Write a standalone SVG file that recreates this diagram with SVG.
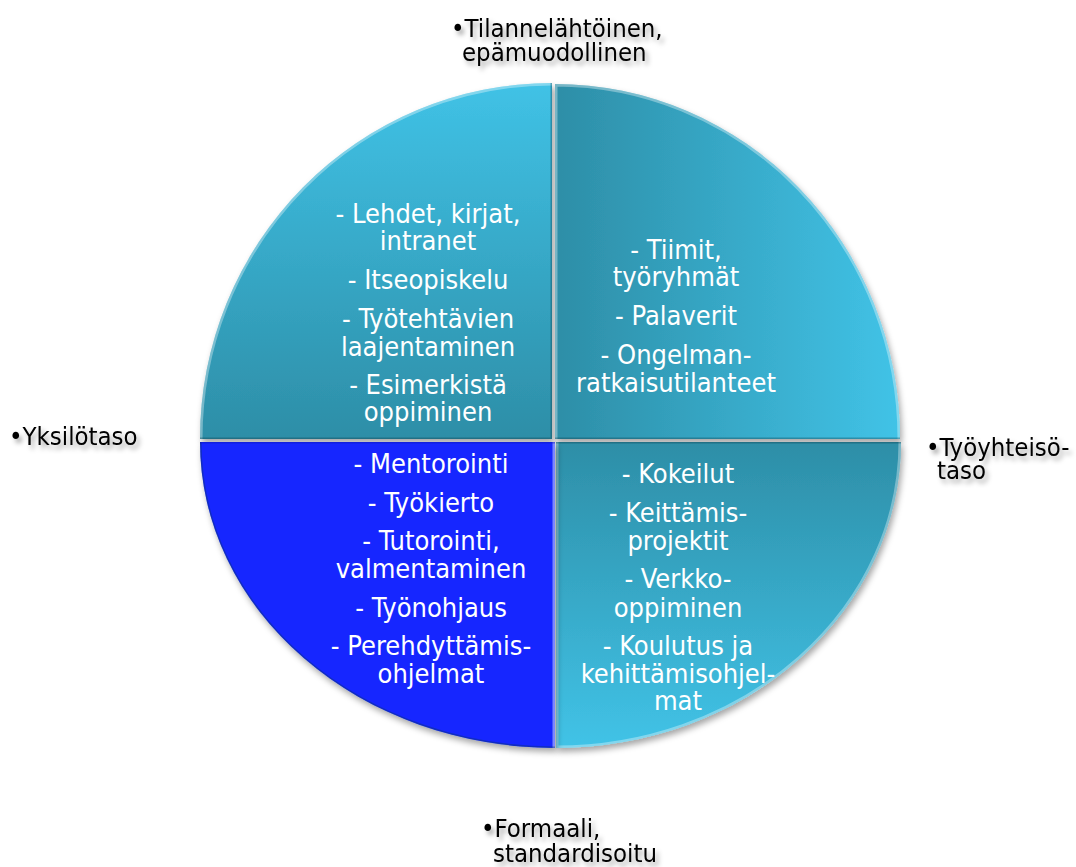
<svg xmlns="http://www.w3.org/2000/svg" width="1076" height="867" viewBox="0 0 1076 867">
<style>
.in{font-family:"DejaVu Sans Condensed","DejaVu Sans",sans-serif;font-stretch:condensed;font-size:27px;fill:#ffffff;text-anchor:middle}
.out{font-family:"DejaVu Sans Condensed","DejaVu Sans",sans-serif;font-stretch:condensed;font-size:25.5px;fill:#000000}
.bev{fill:none;stroke:#ffffff;stroke-opacity:0.35;stroke-width:5}
.dk{fill:none;stroke:#0a3a48;stroke-opacity:0.35;stroke-width:3}
</style>
<defs>
<linearGradient id="gTL" x1="0" y1="0" x2="0" y2="1"><stop offset="0" stop-color="#40c2e6"/><stop offset="1" stop-color="#2d8ea7"/></linearGradient>
<linearGradient id="gTR" x1="0" y1="0" x2="1" y2="0"><stop offset="0" stop-color="#2d8ea7"/><stop offset="1" stop-color="#41c3e7"/></linearGradient>
<linearGradient id="gBR" x1="0" y1="0" x2="0" y2="1"><stop offset="0" stop-color="#2d8ea7"/><stop offset="1" stop-color="#41c3e7"/></linearGradient>
<filter id="sh" x="-10%" y="-10%" width="130%" height="130%"><feDropShadow dx="2" dy="4" stdDeviation="3" flood-color="#000" flood-opacity="0.35"/></filter>
<filter id="tsh" x="-10%" y="-30%" width="130%" height="170%"><feDropShadow dx="3" dy="4" stdDeviation="2.5" flood-color="#000" flood-opacity="0.35"/></filter>
<clipPath id="cTL"><path d="M552,439 L200,439 A352,356 0 0 1 552,83 Z"/></clipPath>
<clipPath id="cTR"><path d="M555,439 L555,84 A345,355 0 0 1 900,439 Z"/></clipPath>
<clipPath id="cBR"><path d="M556,442 L901,442 A345,306 0 0 1 556,748 Z"/></clipPath>
<clipPath id="cBL"><path d="M555,442 L555,748 A355,306 0 0 1 200,442 Z"/></clipPath>
</defs>
<rect width="1076" height="867" fill="#ffffff"/>

<g id="node-top-left">
<path d="M552,439 L200,439 A352,356 0 0 1 552,83 Z" fill="url(#gTL)" filter="url(#sh)"/>
<g clip-path="url(#cTL)">
<path d="M200,439 A352,356 0 0 1 552,83" class="bev"/>
<path d="M552,83 L552,439 L200,439" class="dk"/>
</g>
<text class="in"><tspan x="428" y="223">- Lehdet, kirjat,</tspan><tspan x="428" y="250">intranet</tspan><tspan x="428" y="289">- Itseopiskelu</tspan><tspan x="428" y="328">- Työtehtävien</tspan><tspan x="428" y="356">laajentaminen</tspan><tspan x="428" y="394">- Esimerkistä</tspan><tspan x="428" y="421">oppiminen</tspan></text>
</g>

<g id="node-top-right">
<path d="M555,439 L555,84 A345,355 0 0 1 900,439 Z" fill="url(#gTR)" filter="url(#sh)"/>
<g clip-path="url(#cTR)">
<path d="M555,439 L555,84 A345,355 0 0 1 900,439" class="bev"/>
<path d="M900,439 L555,439" class="dk"/>
</g>
<text class="in"><tspan x="676" y="259">- Tiimit,</tspan><tspan x="676" y="286">työryhmät</tspan><tspan x="676" y="325">- Palaverit</tspan><tspan x="676" y="364">- Ongelman-</tspan><tspan x="676" y="392">ratkaisutilanteet</tspan></text>
</g>

<g id="node-bottom-right">
<path d="M556,442 L901,442 A345,306 0 0 1 556,748 Z" fill="url(#gBR)" filter="url(#sh)"/>
<g clip-path="url(#cBR)">
<path d="M901,442 A345,306 0 0 1 556,748 L556,442" class="bev"/>
<path d="M556,442 L901,442" class="dk"/>
</g>
<text class="in"><tspan x="678" y="483">- Kokeilut</tspan><tspan x="678" y="522">- Keittämis-</tspan><tspan x="678" y="550">projektit</tspan><tspan x="678" y="588">- Verkko-</tspan><tspan x="678" y="617">oppiminen</tspan><tspan x="678" y="655">- Koulutus ja</tspan><tspan x="678" y="683">kehittämisohjel-</tspan><tspan x="678" y="710">mat</tspan></text>
</g>

<g id="node-bottom-left">
<path d="M555,442 L555,748 A355,306 0 0 1 200,442 Z" fill="#1428ff" filter="url(#sh)"/>
<g clip-path="url(#cBL)">
<path d="M555,442 L555,748" fill="none" stroke="#7a86ff" stroke-width="5"/>
<path d="M555,748 A355,306 0 0 1 200,442" class="dk"/>
<path d="M200,442 L555,442" fill="none" stroke="#0a18b0" stroke-opacity="0.4" stroke-width="3"/>
</g>
<text class="in"><tspan x="431" y="473">- Mentorointi</tspan><tspan x="431" y="512">- Työkierto</tspan><tspan x="431" y="550">- Tutorointi,</tspan><tspan x="431" y="578">valmentaminen</tspan><tspan x="431" y="617">- Työnohjaus</tspan><tspan x="431" y="655">- Perehdyttämis-</tspan><tspan x="431" y="683">ohjelmat</tspan></text>
</g>

<g id="connectors"/>

<g id="label-top" filter="url(#tsh)">
<text class="out"><tspan x="451" y="37">•Tilannelähtöinen,</tspan><tspan x="462" y="61">epämuodollinen</tspan></text>
</g>
<g id="label-left" filter="url(#tsh)">
<text class="out"><tspan x="9" y="445">•Yksilötaso</tspan></text>
</g>
<g id="label-right" filter="url(#tsh)">
<text class="out"><tspan x="926" y="456">•Työyhteisö-</tspan><tspan x="937" y="479">taso</tspan></text>
</g>
<g id="label-bottom" filter="url(#tsh)">
<text class="out"><tspan x="481" y="837">•Formaali,</tspan><tspan x="493" y="862">standardisoitu</tspan></text>
</g>
</svg>
